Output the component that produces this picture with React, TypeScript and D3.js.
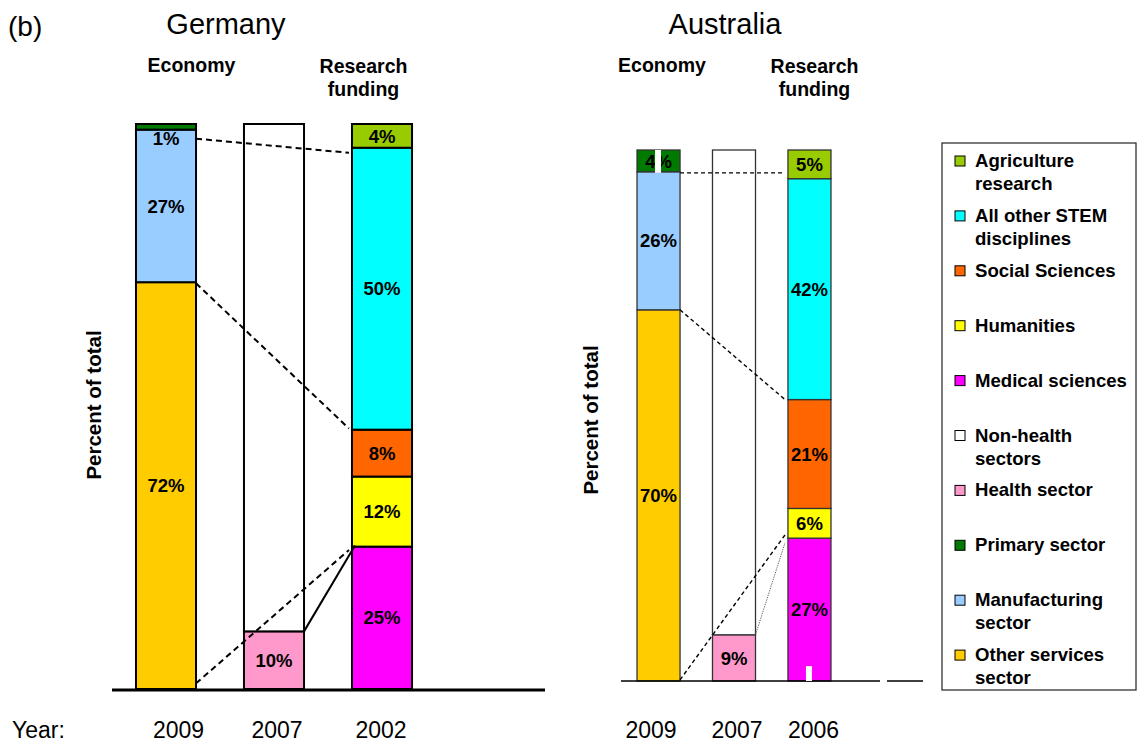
import React from "react";
import * as d3 from "d3";

// ---------- data ----------
const legendKeys = [
  "Agriculture research",
  "All other STEM disciplines",
  "Social Sciences",
  "Humanities",
  "Medical sciences",
  "Non-health sectors",
  "Health sector",
  "Primary sector",
  "Manufacturing sector",
  "Other services sector",
];
const legendLines = [
  ["Agriculture", "research"],
  ["All other STEM", "disciplines"],
  ["Social Sciences"],
  ["Humanities"],
  ["Medical sciences"],
  ["Non-health", "sectors"],
  ["Health sector"],
  ["Primary sector"],
  ["Manufacturing", "sector"],
  ["Other services", "sector"],
];
const legendColors = [
  "#99CC00",
  "#00FFFF",
  "#FF6600",
  "#FFFF00",
  "#FF00FF",
  "#FFFFFF",
  "#FF99CC",
  "#007A00",
  "#99CCFF",
  "#FFCC00",
];

const economyKeys = ["Other services sector", "Manufacturing sector", "Primary sector"];
const healthKeys = ["Health sector", "Non-health sectors"];
const researchKeys = [
  "Medical sciences",
  "Humanities",
  "Social Sciences",
  "All other STEM disciplines",
  "Agriculture research",
];
const barNames = ["economy", "health", "research"];

// Germany
const deEconomy = [72, 27, 1];
const deHealth = [10.2, 89.8];
const deResearch = [25.2, 12.4, 8.3, 49.9, 4.2];
const deYears = ["2009", "2007", "2002"];
const deLinks = [
  { from: 0, a: 97.4, to: 2, b: 94.9, style: "dash" },
  { from: 0, a: 71.8, to: 2, b: 46.1, style: "dash" },
  { from: 0, a: 1.0, to: 2, b: 24.6, style: "dash" },
  { from: 1, a: 10.2, to: 2, b: 25.4, style: "solid" },
];

// Australia
const auEconomy = [69.9, 26.0, 4.1];
const auHealth = [8.7, 91.3];
const auResearch = [26.9, 5.6, 20.5, 41.6, 5.4];
const auYears = ["2009", "2007", "2006"];
const auLinks = [
  { from: 0, a: 95.7, to: 2, b: 95.7, style: "dash" },
  { from: 0, a: 69.9, to: 2, b: 53.0, style: "dash" },
  { from: 0, a: 0.2, to: 2, b: 27.5, style: "dash" },
  { from: 1, a: 8.7, to: 2, b: 26.0, style: "dot" },
];

const colorOf = d3.scaleOrdinal<string, string>().domain(legendKeys).range(legendColors);

const FONT = "'Liberation Sans', Arial, Helvetica, sans-serif";

type Panel = {
  title: string;
  titleX: number;
  xRange: [number, number];
  padInner: number;
  padOuter: number;
  yRange: [number, number];
  bars: { keys: string[]; values: number[] }[];
  years: string[];
  yearDx: number[];
  links: { from: number; a: number; to: number; b: number; style: string }[];
  stroke: string;
  strokeWidth: number;
  linkWidth: number;
  dash: string;
  axisLabelX: number;
  axisLabelY: number;
  econX: number;
  resX: number;
};

const panels: Panel[] = [
  {
    title: "Germany",
    titleX: 226,
    xRange: [112, 436],
    padInner: 0.444,
    padOuter: 0.222,
    yRange: [689, 124],
    bars: [
      { keys: economyKeys, values: deEconomy },
      { keys: healthKeys, values: deHealth },
      { keys: researchKeys, values: deResearch },
    ],
    years: deYears,
    yearDx: [12.5, 3, -1],
    links: deLinks,
    stroke: "#000",
    strokeWidth: 2,
    linkWidth: 2,
    dash: "6,4",
    axisLabelX: 101,
    axisLabelY: 405,
    econX: 191.5,
    resX: 363.5,
  },
  {
    title: "Australia",
    titleX: 725,
    xRange: [620.8, 847.2],
    padInner: 0.43,
    padOuter: 0.215,
    yRange: [681, 150],
    bars: [
      { keys: economyKeys, values: auEconomy },
      { keys: healthKeys, values: auHealth },
      { keys: researchKeys, values: auResearch },
    ],
    years: auYears,
    yearDx: [-7.5, 3, 4],
    links: auLinks,
    stroke: "#333",
    strokeWidth: 1.3,
    linkWidth: 1.4,
    dash: "4,3",
    axisLabelX: 598,
    axisLabelY: 420,
    econX: 662,
    resX: 814.5,
  },
];

function PanelView({ p, idx }: { p: Panel; idx: number }) {
  const x = d3
    .scaleBand<string>()
    .domain(barNames)
    .range(p.xRange)
    .paddingInner(p.padInner)
    .paddingOuter(p.padOuter);
  const y = d3.scaleLinear().domain([0, 100]).range(p.yRange);
  const bw = x.bandwidth();

  return (
    <g>
      <text x={p.titleX} y={34} textAnchor="middle" fontSize={29} fontFamily={FONT}>
        {p.title}
      </text>
      <text x={p.econX} y={72} textAnchor="middle" fontSize={19.5} fontWeight="bold" fontFamily={FONT}>
        Economy
      </text>
      <text x={p.resX} y={73} textAnchor="middle" fontSize={19.5} fontWeight="bold" fontFamily={FONT}>
        Research
      </text>
      <text x={p.resX} y={96} textAnchor="middle" fontSize={19.5} fontWeight="bold" fontFamily={FONT}>
        funding
      </text>
      <text
        transform={`translate(${p.axisLabelX},${p.axisLabelY}) rotate(-90)`}
        textAnchor="middle"
        fontSize={20.5}
        fontWeight="bold"
        fontFamily={FONT}
      >
        Percent of total
      </text>

      {p.bars.map((bar, bi) => {
        const x0 = x(barNames[bi]) as number;
        const cum = [0, ...Array.from(d3.cumsum(bar.values))];
        return (
          <g key={bi}>
            {bar.values.map((v, si) => {
              const yTop = y(cum[si + 1]);
              const yBot = y(cum[si]);
              return (
                <rect
                  key={si}
                  x={x0}
                  y={yTop}
                  width={bw}
                  height={yBot - yTop}
                  fill={colorOf(bar.keys[si])}
                  stroke={p.stroke}
                  strokeWidth={p.strokeWidth}
                />
              );
            })}
          </g>
        );
      })}

      {p.links.map((l, li) => {
        const x1 = (x(barNames[l.from]) as number) + bw;
        const x2 = x(barNames[l.to]) as number;
        return (
          <line
            key={li}
            x1={x1}
            y1={y(l.a)}
            x2={l.style === "solid" ? x2 + 3 : x2 - 3}
            y2={y(l.b)}
            stroke={l.style === "dot" ? "#555" : "#000"}
            strokeWidth={l.style === "dot" ? 1 : p.linkWidth}
            strokeDasharray={l.style === "dash" ? p.dash : l.style === "dot" ? "1.2,1.2" : undefined}
          />
        );
      })}

      {p.bars.map((bar, bi) => {
        const x0 = x(barNames[bi]) as number;
        const cum = [0, ...Array.from(d3.cumsum(bar.values))];
        return (
          <g key={"l" + bi}>
            {bar.values.map((v, si) => {
              if (bar.keys[si] === "Non-health sectors") return null;
              const yTop = y(cum[si + 1]);
              const yBot = y(cum[si]);
              const small = yBot - yTop < 12 && idx === 0;
              const cy = small ? yBot + 9 : (yTop + yBot) / 2;
              return (
                <text
                  key={si}
                  x={x0 + bw / 2}
                  y={cy}
                  dy="0.36em"
                  textAnchor="middle"
                  fontSize={18.5}
                  fontWeight="bold"
                  fontFamily={FONT}
                  fill="#000"
                >
                  {Math.round(v)}%
                </text>
              );
            })}
          </g>
        );
      })}

      {p.years.map((yr, i) => (
        <text
          key={yr + i}
          x={(x(barNames[i]) as number) + bw / 2 + p.yearDx[i]}
          y={738}
          textAnchor="middle"
          fontSize={23}
          fontFamily={FONT}
        >
          {yr}
        </text>
      ))}
    </g>
  );
}

export default function App() {
  const de = panels[0];
  const au = panels[1];
  const yAu = d3.scaleLinear().domain([0, 100]).range(au.yRange);
  const xAu = d3
    .scaleBand<string>()
    .domain(barNames)
    .range(au.xRange)
    .paddingInner(au.padInner)
    .paddingOuter(au.padOuter);
  const legendStep = 54.9;
  return (
    <svg
      width={1138}
      height={745}
      style={{ position: "absolute", left: 0, top: 0, background: "#fff" }}
      fontFamily={FONT}
    >
      <rect x={0} y={0} width={1138} height={745} fill="#fff" />
      <text x={8} y={36} fontSize={28} fontFamily={FONT}>
        (b)
      </text>
      <text x={12} y={738} fontSize={23} fontFamily={FONT}>
        Year:
      </text>

      <PanelView p={de} idx={0} />
      {/* Germany baseline */}
      <line x1={112} x2={545} y1={690} y2={690} stroke="#000" strokeWidth={3} />

      <PanelView p={au} idx={1} />
      {/* Australia baseline (with gap) */}
      <line x1={621} x2={880} y1={681} y2={681} stroke="#000" strokeWidth={1.5} />
      <line x1={887} x2={923} y1={681} y2={681} stroke="#000" strokeWidth={1.5} />
      {/* white scan artifacts */}
      <rect
        x={(xAu("economy") as number) + 18}
        y={yAu(100)}
        width={6}
        height={yAu(95.7) - yAu(100)}
        fill="#fff"
      />
      <rect
        x={(xAu("research") as number) + 18}
        y={yAu(2.8)}
        width={6}
        height={yAu(0) - yAu(2.8)}
        fill="#fff"
      />

      {/* Legend */}
      <rect x={942} y={143} width={194} height={547} fill="#fff" stroke="#333" strokeWidth={1.3} />
      {legendKeys.map((k, i) => {
        const by = 167 + i * legendStep;
        return (
          <g key={k}>
            <rect x={955} y={by - 11} width={10} height={10} fill={legendColors[i]} stroke="#000" strokeWidth={1} />
            {legendLines[i].map((ln, j) => (
              <text key={j} x={975} y={by + j * 23} fontSize={18.6} fontWeight="bold" fontFamily={FONT}>
                {ln}
              </text>
            ))}
          </g>
        );
      })}
    </svg>
  );
}
